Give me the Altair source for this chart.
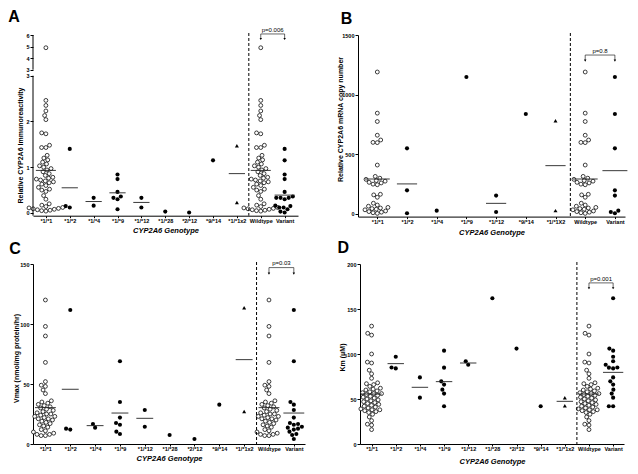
import math
import altair as alt
import pandas as pd

FONT = "Liberation Sans"

# ---------------- categories ----------------
CATS_ACD = ["*1/*1", "*1/*2", "*1/*4", "*1/*9", "*1/*12", "*1/*28", "*2/*12", "*9/*14", "*1/*1x2", "Wildtype", "Variant"]
CATS_B = ["*1/*1", "*1/*2", "*1/*4", "*1/*9", "*1/*12", "*9/*14", "*1/*1X2", "Wildtype", "Variant"]

# ---------------- panel A: relative CYP2A6 immunoreactivity ----------------
A_11 = [4.9, 2.46, 2.35, 2.23, 2.13, 2.04, 1.75, 1.73, 1.48, 1.43, 1.43, 1.26, 1.2, 1.16, 1.11, 1.07,
        1.03, 1.0, 0.97, 0.94, 0.9, 0.86, 0.82, 0.78, 0.76, 0.74, 0.72, 0.7, 0.68, 0.66, 0.63, 0.6,
        0.56, 0.52, 0.5, 0.47, 0.38, 0.3, 0.2, 0.17, 0.14, 0.12, 0.11, 0.1, 0.09, 0.08, 0.07, 0.06, 0.05, 0.04]
A_12 = [1.4, 0.12, 0.15]
A_14 = [0.33, 0.16]
A_19 = [0.84, 0.74, 0.46, 0.36, 0.33, 0.30, 0.08]
A_112 = [0.33, 0.12]
A_128 = [0.03]
A_212 = [0.01]
A_914 = [1.15]
A_1X2 = [1.47, 0.23]
A_MEANS = [0.93, 0.55, 0.25, 0.44, 0.23, None, None, None, 0.86, 0.93, 0.39]
A_P = ["p=0.006", 6.46, 6.09, 5.65]

# ---------------- panel B: CYP2A6 mRNA copy number ----------------
B_11 = [1190, 845, 775, 660, 620, 600, 598, 410, 315, 300, 290, 280, 275, 265, 260, 250, 245,
        165, 160, 140, 90, 75, 65, 55, 50, 45, 40, 35, 25, 20, 15, 10, 5]
B_12 = [550, 198, 6]
B_14 = [28]
B_19 = [1148]
B_112 = [154, 17]
B_914 = [838]
B_1X2 = [782, 28]
B_MEANS = [293, 252, None, None, 89, None, 405, 293, 363]
B_P = ["p=0.8", 1366, 1332, 1285]

# ---------------- panel C: Vmax ----------------
C_11 = [120, 98, 90, 68, 52, 49, 48, 45, 42, 36, 35, 34, 33, 32, 31, 30, 29, 28, 27, 26, 25, 25,
        24, 23, 23, 22, 21, 21, 20, 19, 18, 17, 16, 15, 14, 12, 11, 10, 9, 8, 8, 7, 7]
C_12 = [111.7, 12, 12.8]
C_14 = [13.6, 16.7]
C_19 = [69, 35, 22, 17.5, 16, 10.3, 8.3]
C_112 = [28.3, 14.4]
C_128 = [7.5]
C_212 = [4.2]
C_914 = [32.8]
C_1X2 = [113.6, 27]
C_MEANS = [30.3, 45.6, 15.3, 25.8, 21.4, None, None, None, 70.3, 30.3, 25.8]
C_P = ["p=0.03", 151, 147, 142]

# ---------------- panel D: Km ----------------
D_11 = [131, 123, 121, 100, 91, 90, 82, 78, 73, 68, 67, 66, 64, 62, 61, 60, 59, 58, 57, 56, 56,
        55, 54, 53, 52, 51, 50, 49, 48, 47, 46, 45, 44, 43, 42, 41, 40, 39, 38, 38, 37, 36, 35,
        33, 30, 26, 22, 21, 16]
D_12 = [97, 84, 85]
D_14 = [74, 51.5]
D_19 = [103.7, 84.8, 69.6, 66, 60.4, 56, 41.9]
D_112 = [88, 91.9]
D_128 = [162]
D_212 = [106]
D_914 = [41.9]
D_1X2 = [51.5, 42.6]
D_MEANS = [55.5, 89.3, 63, 69.3, 90, None, None, None, 47.4, 55.5, 79.6]
D_P = ["p=0.001", 183, 179, 173]

# broken axis of panel A
BREAK_AT = 3.0
BREAK_GAP = 0.131
UPPER_RATIO = 0.253


def a_transform(v):
    if v <= BREAK_AT:
        return v
    return BREAK_AT + BREAK_GAP + (v - BREAK_AT) * UPPER_RATIO


def ident(v):
    return v


def swarm(py, d):
    """simple beeswarm: horizontal pixel offsets for pixel heights py"""
    order = sorted(range(len(py)), key=lambda i: py[i])
    placed = []
    xs = [0.0] * len(py)
    for i in order:
        y = py[i]
        iv = []
        for (px, qy) in placed:
            dy = abs(qy - y)
            if dy < d:
                w = math.sqrt(d * d - dy * dy)
                iv.append((px - w, px + w))
        cands = [0.0] + [a for a, b in iv] + [b for a, b in iv]
        cands.sort(key=lambda c: (abs(c), c))
        for c in cands:
            if all(not (a + 1e-6 < c < b - 1e-6) for a, b in iv):
                xs[i] = c
                break
        placed.append((xs[i], y))
    return xs


def panel(cats, groups, means, pinfo, letter, ylab, yvals, ylabel_expr, ydom, xdom,
          width, height, tf, title_x, title_y, xtitle_y, letter_xy, broken=False):
    n = len(cats)
    wt = groups[0]
    variant = [v for g in groups[1:-1] for v in g]
    allg = list(groups) + [wt, variant]
    kinds = ["open"] + ["filled"] * (len(groups) - 2) + ["tri", "open", "filled"]
    ppx = width / (xdom[1] - xdom[0])
    ppy = height / (ydom[1] - ydom[0])

    rows = []
    for i, (g, k) in enumerate(zip(allg, kinds)):
        t = [tf(v) for v in g]
        offs = swarm([tv * ppy for tv in t], 4.3)
        for tv, o in zip(t, offs):
            rows.append({"x": i + o / ppx, "y": tv, "kind": k})
    pts = pd.DataFrame(rows)

    xs = alt.Scale(domain=xdom, nice=False, zero=False)
    ys = alt.Scale(domain=ydom, nice=False, zero=False)
    xexpr = "[" + ",".join("'" + c + "'" for c in cats) + "][datum.value]"
    xaxis = alt.Axis(values=list(range(n)), labelExpr=xexpr, title="CYP2A6 Genotype",
                     titleFontStyle="italic", titleFontSize=7.5, labelFlush=False, labelOverlap=False,
                     labelAngle=0, tickSize=2, labelPadding=0.5, titleY=xtitle_y, titleBaseline="middle")
    yax_kw = dict(values=yvals, title=ylab, titleX=title_x, titleY=title_y, titleBaseline="middle",
                  titleAngle=270, labelFlush=False, labelOverlap=False, tickSize=3, labelPadding=1)
    if ylabel_expr:
        yax_kw["labelExpr"] = ylabel_expr
    else:
        yax_kw["format"] = "d"
    if broken:
        yax_kw["domain"] = False
    yaxis = alt.Axis(**yax_kw)

    X = lambda f: alt.X(f, scale=xs, axis=xaxis)
    Y = lambda f: alt.Y(f, scale=ys, axis=yaxis)

    layers = []
    open_pts = alt.Chart(pts[pts.kind == "open"]).mark_point(
        shape="circle", fill="white", stroke="black", strokeWidth=0.75, size=15, opacity=1
    ).encode(x=X("x:Q"), y=Y("y:Q"))
    layers.append(open_pts)
    fp = pts[pts.kind == "filled"]
    if len(fp):
        layers.append(alt.Chart(fp).mark_point(shape="circle", filled=True, color="black", size=17, opacity=1)
                      .encode(x=X("x:Q"), y=Y("y:Q")))
    tp = pts[pts.kind == "tri"]
    layers.append(alt.Chart(tp).mark_point(shape="triangle-up", filled=True, color="black", size=16, opacity=1)
                  .encode(x=X("x:Q"), y=Y("y:Q")))

    mrows = []
    for i, m in enumerate(means):
        if m is None:
            continue
        hw = 0.42 if i in (0, n - 2, n - 1) else 0.34
        mrows.append({"x1": i - hw, "x2": i + hw, "y": tf(m)})
    layers.append(alt.Chart(pd.DataFrame(mrows)).mark_rule(color="#222", strokeWidth=0.9)
                  .encode(x=X("x1:Q"), x2="x2:Q", y=Y("y:Q")))

    layers.append(alt.Chart(pd.DataFrame({"s": [n - 2.5]})).mark_rule(
        color="black", strokeWidth=1, strokeDash=[3, 2]).encode(
        x=X("s:Q"), y=alt.value(-2), y2=alt.value(height)))

    ptxt, yt, yb, ytip = pinfo
    br = pd.DataFrame({
        "x1": [n - 2, n - 2, n - 1], "x2": [n - 1, n - 2, n - 1],
        "y1": [tf(yb), tf(yb), tf(yb)], "y2": [tf(yb), tf(ytip), tf(ytip)]})
    layers.append(alt.Chart(br).mark_rule(color="black", strokeWidth=0.6)
                  .encode(x=X("x1:Q"), x2="x2:Q", y=Y("y1:Q"), y2="y2:Q"))
    layers.append(alt.Chart(pd.DataFrame({"x": [n - 2, n - 1], "y": [tf(ytip), tf(ytip)]}))
                  .mark_point(shape="triangle-down", filled=True, color="black", size=6, opacity=1)
                  .encode(x=X("x:Q"), y=Y("y:Q")))
    layers.append(alt.Chart(pd.DataFrame({"x": [n - 1.5], "y": [tf(yt)], "t": [ptxt]}))
                  .mark_text(font=FONT, fontSize=6, color="black", baseline="middle")
                  .encode(x=X("x:Q"), y=Y("y:Q"), text="t:N"))

    if broken:
        seg = pd.DataFrame({"a": [ydom[0], BREAK_AT + BREAK_GAP], "b": [BREAK_AT, ydom[1]]})
        layers.append(alt.Chart(seg).mark_rule(color="black", strokeWidth=1)
                      .encode(x=alt.value(0), y=Y("a:Q"), y2="b:Q"))

    layers.append(alt.Chart(pd.DataFrame({"t": [letter]})).mark_text(
        font=FONT, fontSize=16, fontWeight="bold", align="left", baseline="top", color="black")
        .encode(text="t:N", x=alt.value(letter_xy[0]), y=alt.value(letter_xy[1])))

    return alt.layer(*layers).properties(width=width, height=height)


A_top = a_transform(6.0)
A_yvals = [0, 1, 2, 3, BREAK_AT + BREAK_GAP, a_transform(4), a_transform(5), a_transform(6)]
A_expr = ("datum.value <= 3.01 ? format(datum.value, 'd') : "
          "format(round(3 + (datum.value - %g) / %g), 'd')" % (BREAK_AT + BREAK_GAP, UPPER_RATIO))

pA = panel(CATS_ACD, [A_11, A_12, A_14, A_19, A_112, A_128, A_212, A_914, A_1X2], A_MEANS, A_P, "A",
           "Relative CYP2A6 Immunoreactivity", A_yvals, A_expr, [-0.06, A_top], [-0.54, 10.56],
           265, 180.7, a_transform, -13, 110, 15, (-24.7, -26.3), broken=True)
pB = panel(CATS_B, [B_11, B_12, B_14, B_19, B_112, B_914, B_1X2], B_MEANS, B_P, "B",
           "Relative CYP2A6 mRNA copy number", [0, 500, 1000, 1500], None, [-22, 1500], [-0.65, 8.34],
           267, 181.6, ident, -17.3, 84, 15.7, (-17.3, -23.7))
pC = panel(CATS_ACD, [C_11, C_12, C_14, C_19, C_112, C_128, C_212, C_914, C_1X2], C_MEANS, C_P, "C",
           "Vmax (nmol/mg protein/hr)", [0, 50, 100, 150], None, [0, 150], [-0.5, 10.45],
           272, 180, ident, -17, 94, 14.7, (-23.7, -23))
pD = panel(CATS_ACD, [D_11, D_12, D_14, D_19, D_112, D_128, D_212, D_914, D_1X2], D_MEANS, D_P, "D",
           "Km (μM)", [0, 50, 100, 150, 200], None, [0, 200], [-0.48, 10.45],
           264, 180, ident, -18, 93, 17.7, (-22.4, -24.3))

chart = alt.vconcat(
    alt.hconcat(pA, pB, spacing=38),
    alt.hconcat(pC, pD, spacing=32),
    spacing=3,
).properties(padding=0).configure_view(stroke=None).configure_axis(
    labelFont=FONT, labelFontSize=5.5, labelFontWeight="bold", labelColor="black",
    titleFont=FONT, titleFontSize=7, titleFontWeight="bold", titleColor="black",
    domainColor="black", tickColor="black", domainWidth=1, tickWidth=1, grid=False,
)

chart.save("out.html", embed_options={"renderer": "svg", "actions": False})
